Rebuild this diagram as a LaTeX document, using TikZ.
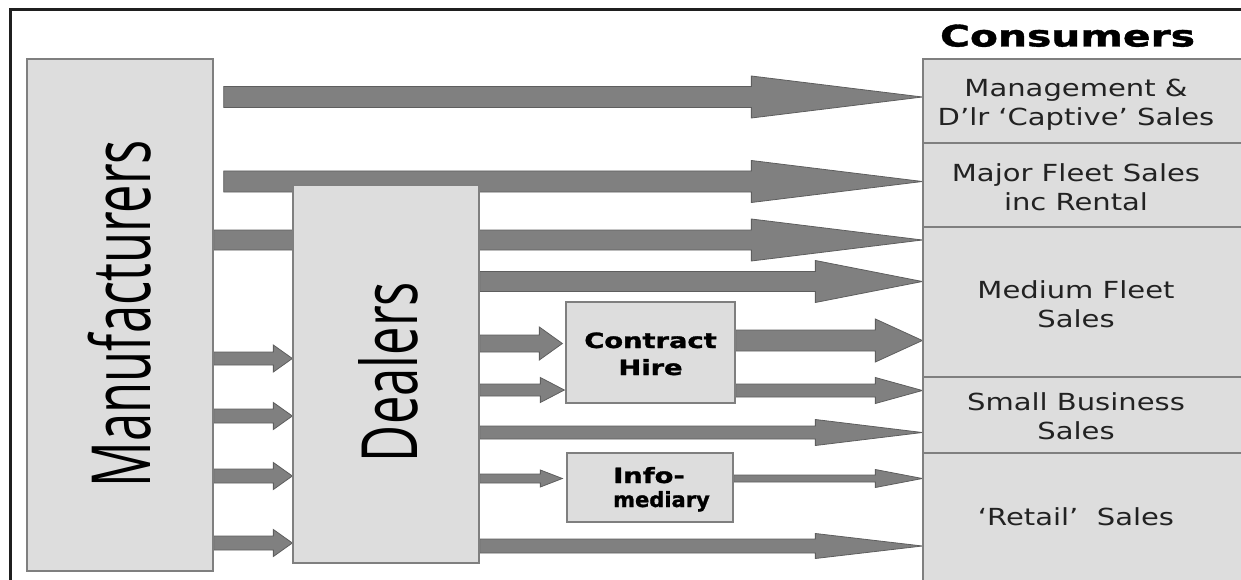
\documentclass[tikz,border=0pt]{standalone}
\usepackage{fontspec}
\setmainfont{DejaVu Sans}
\newfontfamily\bigfont{Open Sans}
\newfontfamily\heavyfont[FakeBold=1.2]{DejaVu Sans Bold}
\usetikzlibrary{calc}
\pgfdeclarelayer{flows}
\pgfsetlayers{flows,main}

\definecolor{boxfill}{HTML}{DDDDDD}
\definecolor{boxline}{HTML}{7F7F7F}
\definecolor{arrowfill}{HTML}{808080}
\definecolor{arrowline}{HTML}{5E5E5E}
\definecolor{labeltext}{HTML}{222222}

\tikzset{
  box/.style={draw=boxline, fill=boxfill, line width=1.3pt, inner sep=0pt},
  flowarrow/.style={fill=arrowfill, draw=arrowline, line width=0.8pt, line join=miter},
  lbl/.style={inner sep=0pt, text=labeltext},
  frameline/.style={draw=black!88, line width=3pt, line join=miter},
}

% block arrow: #1 tail (x used), #2 tip, #3 shaft half-height,
% #4 head half-height, #5 head length (all in pt)
\newcommand\flow[5]{%
  \filldraw[flowarrow] let \p1=#1, \p2=#2 in
    (\x1,\y2+#3pt) -- (\x2-#5pt,\y2+#3pt) -- (\x2-#5pt,\y2+#4pt) -- (\x2,\y2)
    -- (\x2-#5pt,\y2-#4pt) -- (\x2-#5pt,\y2-#3pt) -- (\x1,\y2-#3pt) -- cycle;}

% consumer segment labels
\newcommand\conslabel[1]{\scalebox{1.235}[1]{\fontsize{23.5}{29}\selectfont
  \begin{tabular}[t]{@{}c@{}}#1\end{tabular}}}

\begin{document}
\begin{tikzpicture}[x=1pt, y=-1pt]
\useasboundingbox (0,0) rectangle (1241,580);

% outer frame
\draw[frameline] (10.5,590) -- (10.5,10) -- (1250,10);

% supply side
\node[box, minimum width=186pt, minimum height=512pt] (man) at (120,315) {};
\node[box, minimum width=186pt, minimum height=378pt] (dlr) at (386,374) {};
\node[box, minimum width=169pt, minimum height=101pt] (ch) at (650.5,352.5) {};
\node[box, minimum width=166pt, minimum height=69pt] (im) at (650,487.5) {};

\node[lbl, rotate=90, text=black] at (119.5,313.5)
  {\resizebox{347pt}{62.5pt}{\bigfont Manufacturers}};
\node[lbl, rotate=90, text=black] at (388.5,372)
  {\resizebox{180pt}{59pt}{\bigfont Dealers}};

\node[lbl, anchor=base, text=black] at (650.5,348)
  {\scalebox{1.3}[1]{\fontsize{21}{27}\selectfont\heavyfont
   \begin{tabular}[t]{@{}c@{}}Contract\\Hire\end{tabular}}};
\node[lbl, anchor=base west, text=black] at (613,483)
  {\fontsize{21}{24}\selectfont\heavyfont
   \begin{tabular}[t]{@{}l@{}}\scalebox{1.3}[1]{Info-}\\\scalebox{1.0}[1]{mediary}\end{tabular}};

% consumer segments
\node[box, minimum width=322pt, minimum height=84pt] (cmg) at (1084,101) {};
\node[box, minimum width=322pt, minimum height=84pt] (cmj) at (1084,185) {};
\node[box, minimum width=322pt, minimum height=150pt] (cmd) at (1084,302) {};
\node[box, minimum width=322pt, minimum height=76pt] (csm) at (1084,415) {};
\node[box, minimum width=322pt, minimum height=128pt] (crt) at (1084,517) {};

\node[lbl, anchor=base, text=black] at (1067.5,46.5)
  {\resizebox{255pt}{22pt}{\heavyfont Consumers}};

\node[lbl, anchor=base] at (1076,97) {\conslabel{Management \&\\D’lr ‘Captive’ Sales}};
\node[lbl, anchor=base] at (1076,182) {\conslabel{Major Fleet Sales\\inc Rental}};
\node[lbl, anchor=base] at (1076,298) {\conslabel{Medium Fleet\\Sales}};
\node[lbl, anchor=base] at (1076,410) {\conslabel{Small Business\\Sales}};
\node[lbl, anchor=base] at (1076,525) {\conslabel{‘Retail’\ \ Sales}};

% flows
\begin{pgfonlayer}{flows}
\flow{([xshift=10pt]man.east)}{(cmg.west |- 0,97)}{10.5}{21}{171}
\flow{([xshift=10pt]man.east)}{(cmj.west |- 0,181.5)}{10.5}{21}{171}
\flow{(man.east)}{(cmd.west |- 0,240)}{10}{21}{171}
\flow{(dlr.east)}{(cmd.west |- 0,281.5)}{10}{21}{107}
\flow{(ch.east)}{(cmd.west |- 0,340.5)}{10.5}{21.5}{47}
\flow{(ch.east)}{(csm.west |- 0,390.5)}{6.5}{13}{47}
\flow{(dlr.east)}{(csm.west |- 0,432.5)}{6.5}{13}{107}
\flow{(im.east)}{(crt.west |- 0,478.5)}{3.5}{9}{47}
\flow{(dlr.east)}{(crt.west |- 0,546)}{7}{12.5}{107}
\flow{(dlr.east)}{([xshift=-3pt]ch.west |- 0,343.5)}{8.5}{16.5}{23}
\flow{(dlr.east)}{([xshift=-1pt]ch.west |- 0,390)}{6}{12.5}{24}
\flow{(dlr.east)}{([xshift=-4pt]im.west |- 0,478.5)}{4.5}{8.5}{22}
\flow{(man.east)}{(dlr.west |- 0,358.5)}{6.5}{13.5}{19}
\flow{(man.east)}{(dlr.west |- 0,416)}{7}{13.5}{19}
\flow{(man.east)}{(dlr.west |- 0,476)}{7}{13.5}{19}
\flow{(man.east)}{(dlr.west |- 0,543)}{7}{13.5}{19}
\end{pgfonlayer}
\end{tikzpicture}
\end{document}
